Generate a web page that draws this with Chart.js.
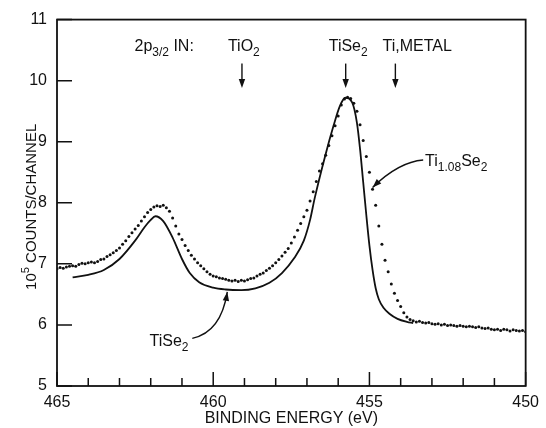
<!DOCTYPE html>
<html>
<head>
<meta charset="utf-8">
<script src="https://cdn.jsdelivr.net/npm/chart.js@4.4.1/dist/chart.umd.min.js"></script>
<style>
  html, body { margin: 0; padding: 0; background: #fff; }
</style>
</head>
<body>
<canvas id="xps" width="546" height="428"></canvas>
<script>
// TiSe2 solid curve (binding energy eV, 10^5 counts/channel)
const tise2Energy = [464.5, 464.0, 463.5, 463.0, 462.5, 462.2, 462.0, 461.85, 461.6, 461.3,
  461.0, 460.75, 460.45, 460.0, 459.6, 459.1, 458.65, 458.2, 457.8, 457.4,
  457.1, 456.9, 456.75, 456.4, 456.15, 455.95, 455.77, 455.55, 455.4, 455.3,
  455.2, 455.1, 455.0, 454.9, 454.8, 454.7, 454.55, 454.35, 454.1, 453.8, 453.6];
const tise2Counts = [6.78, 6.82, 6.90, 7.08, 7.38, 7.60, 7.72, 7.78, 7.70, 7.43,
  7.08, 6.85, 6.70, 6.61, 6.58, 6.57, 6.60, 6.69, 6.85, 7.10,
  7.38, 7.72, 8.08, 8.80, 9.26, 9.58, 9.72, 9.64, 9.31, 8.88,
  8.34, 7.80, 7.30, 6.90, 6.60, 6.42, 6.28, 6.18, 6.10, 6.05, 6.03];

// Ti1.08Se2 dotted spectrum
const tiSeEnergy = [
  465.0, 464.9, 464.8, 464.7, 464.6, 464.5, 464.4, 464.3, 464.2, 464.1,
  464.0, 463.9, 463.8, 463.7, 463.6, 463.5, 463.4, 463.3, 463.2, 463.1,
  463.0, 462.9, 462.8, 462.7, 462.6, 462.5, 462.4, 462.3, 462.2, 462.1,
  462.0, 461.9, 461.8, 461.7, 461.6, 461.5, 461.4, 461.3, 461.2, 461.1,
  461.0, 460.9, 460.8, 460.7, 460.6, 460.5, 460.4, 460.3, 460.2, 460.1,
  460.0, 459.9, 459.8, 459.7, 459.6, 459.5, 459.4, 459.3, 459.2, 459.1,
  459.0, 458.9, 458.8, 458.7, 458.6, 458.5, 458.4, 458.3, 458.2, 458.1,
  458.0, 457.9, 457.8, 457.7, 457.6, 457.5, 457.4, 457.3, 457.2, 457.1,
  457.0, 456.9, 456.8, 456.7, 456.6, 456.5, 456.4, 456.3, 456.2, 456.1,
  456.0, 455.9, 455.8, 455.7, 455.6, 455.5, 455.4, 455.3, 455.2, 455.1,
  455.0, 454.9, 454.8, 454.7, 454.6, 454.5, 454.4, 454.3, 454.2, 454.1,
  454.0, 453.9, 453.8, 453.7, 453.6, 453.5, 453.4, 453.3, 453.2, 453.1,
  453.0, 452.9, 452.8, 452.7, 452.6, 452.5, 452.4, 452.3, 452.2, 452.1,
  452.0, 451.9, 451.8, 451.7, 451.6, 451.5, 451.4, 451.3, 451.2, 451.1,
  451.0, 450.9, 450.8, 450.7, 450.6, 450.5, 450.4, 450.3, 450.2, 450.1,
  450.0];
const tiSeCounts = [
  6.92, 6.94, 6.93, 6.95, 6.96, 6.97, 6.96, 6.99, 7.01, 7.00,
  7.02, 7.03, 7.02, 7.04, 7.07, 7.08, 7.12, 7.15, 7.18, 7.22,
  7.26, 7.32, 7.38, 7.45, 7.51, 7.57, 7.63, 7.70, 7.77, 7.84,
  7.89, 7.93, 7.95, 7.94, 7.96, 7.92, 7.86, 7.75, 7.62, 7.49,
  7.40, 7.30, 7.22, 7.14, 7.08, 7.02, 6.97, 6.92, 6.87, 6.83,
  6.80, 6.79, 6.77, 6.76, 6.75, 6.73, 6.72, 6.73, 6.71, 6.73,
  6.72, 6.74, 6.76, 6.77, 6.80, 6.83, 6.85, 6.89, 6.93, 6.97,
  7.02, 7.07, 7.13, 7.19, 7.25, 7.34, 7.44, 7.55, 7.66, 7.77,
  7.88, 8.03, 8.18, 8.35, 8.52, 8.64, 8.78, 8.94, 9.10, 9.26,
  9.42, 9.60, 9.70, 9.73, 9.71, 9.63, 9.50, 9.28, 9.02, 8.76,
  8.50, 8.22, 7.96, 7.62, 7.32, 7.06, 6.87, 6.67, 6.52, 6.40,
  6.30, 6.20, 6.13, 6.09, 6.07, 6.05, 6.06, 6.04, 6.03, 6.04,
  6.02, 6.01, 6.02, 6.00, 6.01, 5.99, 6.00, 5.99, 5.98, 5.99,
  5.98, 5.97, 5.98, 5.97, 5.96, 5.97, 5.95, 5.94, 5.95, 5.93,
  5.92, 5.93, 5.91, 5.93, 5.92, 5.90, 5.92, 5.91, 5.90, 5.91,
  5.89];

const FONT = '"Liberation Sans", Arial, sans-serif';
const ink = '#111';

// text labels on the plot, positioned in data units (energy, counts)
const notes = [
  { e: 462.52, v: 10.49, align: 'left',   parts: [['2p'], ['3/2', 'sub'], [' IN:']] },
  { e: 459.02, v: 10.49, align: 'center', parts: [['TiO'], ['2', 'sub']] },
  { e: 455.68, v: 10.49, align: 'center', parts: [['TiSe'], ['2', 'sub']] },
  { e: 454.58, v: 10.49, align: 'left',   parts: [['Ti,METAL']] },
  { e: 453.22, v: 8.60,  align: 'left',   parts: [['Ti'], ['1.08', 'sub'], ['Se'], ['2', 'sub']] },
  { e: 462.04, v: 5.65,  align: 'left',   parts: [['TiSe'], ['2', 'sub']] }
];
const arrowEnergy = [459.08, 455.76, 454.17];
const arrowTop = 10.28, arrowBottom = 9.88;
// curved pointers: start, control, tip
const pointers = [
  [[453.28, 8.70], [454.06, 8.67], [454.90, 8.25]],
  [[460.67, 5.78], [459.75, 5.88], [459.55, 6.54]]
];

function drawRich(ctx, parts, x, y, size, align) {
  const fontFor = p => (p[1] ? Math.round(size * 0.72) : size) + 'px ' + FONT;
  let w = 0;
  parts.forEach(p => { ctx.font = fontFor(p); w += ctx.measureText(p[0]).width; });
  let cx = align === 'center' ? x - w / 2 : x;
  ctx.textAlign = 'left';
  ctx.textBaseline = 'alphabetic';
  parts.forEach(p => {
    ctx.font = fontFor(p);
    let dy = 0;
    if (p[1] === 'sub') dy = size * 0.32;
    if (p[1] === 'sup') dy = -size * 0.42;
    ctx.fillText(p[0], cx, y + dy);
    cx += ctx.measureText(p[0]).width;
  });
}

function arrowHead(ctx, x, y, ang) {
  const L = 9, W = 3.2;
  ctx.beginPath();
  ctx.moveTo(x, y);
  ctx.lineTo(x - L * Math.cos(ang) + W * Math.sin(ang), y - L * Math.sin(ang) - W * Math.cos(ang));
  ctx.lineTo(x - L * Math.cos(ang) - W * Math.sin(ang), y - L * Math.sin(ang) + W * Math.cos(ang));
  ctx.closePath();
  ctx.fill();
}

const decor = {
  id: 'decor',
  afterDraw(chart) {
    const ctx = chart.ctx;
    const a = chart.chartArea;
    const xs = chart.scales.x, ys = chart.scales.y;
    ctx.save();
    ctx.strokeStyle = ink;
    ctx.fillStyle = ink;
    ctx.lineWidth = 1.8;
    ctx.strokeRect(a.left, a.top, a.right - a.left, a.bottom - a.top);

    // inward tick marks
    ctx.lineWidth = 1.5;
    ctx.beginPath();
    xs.ticks.forEach(t => {
      const px = xs.getPixelForValue(t.value);
      const len = t.value % 5 === 0 ? 14 : 8;
      ctx.moveTo(px, a.bottom);
      ctx.lineTo(px, a.bottom - len);
    });
    ys.ticks.forEach(t => {
      const py = ys.getPixelForValue(t.value);
      ctx.moveTo(a.left, py);
      ctx.lineTo(a.left + 15, py);
    });
    ctx.stroke();

    // labels
    notes.forEach(n => {
      drawRich(ctx, n.parts, xs.getPixelForValue(n.e), ys.getPixelForValue(n.v), 16, n.align);
    });

    // straight arrows
    ctx.lineWidth = 1.4;
    arrowEnergy.forEach(e => {
      const px = xs.getPixelForValue(e);
      const y0 = ys.getPixelForValue(arrowTop), y1 = ys.getPixelForValue(arrowBottom);
      ctx.beginPath();
      ctx.moveTo(px, y0);
      ctx.lineTo(px, y1 - 6);
      ctx.stroke();
      arrowHead(ctx, px, y1, Math.PI / 2);
    });

    // curved pointers
    pointers.forEach(p => {
      const P = p.map(q => [xs.getPixelForValue(q[0]), ys.getPixelForValue(q[1])]);
      ctx.beginPath();
      ctx.moveTo(P[0][0], P[0][1]);
      ctx.quadraticCurveTo(P[1][0], P[1][1], P[2][0], P[2][1]);
      ctx.stroke();
      const ang = Math.atan2(P[2][1] - P[1][1], P[2][0] - P[1][0]);
      arrowHead(ctx, P[2][0], P[2][1], ang);
    });

    // axis titles
    ctx.font = '16px ' + FONT;
    ctx.textAlign = 'center';
    ctx.textBaseline = 'middle';
    ctx.fillText('BINDING ENERGY (eV)', (a.left + a.right) / 2, 419);
    ctx.save();
    ctx.translate(30, (a.top + a.bottom) / 2 + 4);
    ctx.rotate(-Math.PI / 2);
    drawRich(ctx, [['10'], ['5', 'sup'], [' COUNTS/CHANNEL']], 0, 5.5, 15, 'center');
    ctx.restore();
    ctx.restore();
  }
};

new Chart(document.getElementById('xps'), {
  type: 'line',
  data: {
    datasets: [
      {
        label: 'TiSe2',
        data: tise2Energy.map((e, i) => ({ x: e, y: tise2Counts[i] })),
        borderColor: ink,
        borderWidth: 1.8,
        pointRadius: 0,
        cubicInterpolationMode: 'monotone',
        fill: false
      },
      {
        label: 'Ti1.08Se2',
        data: tiSeEnergy.map((e, i) => ({ x: e, y: tiSeCounts[i] })),
        showLine: false,
        pointRadius: 1.5,
        pointBorderWidth: 0,
        pointBackgroundColor: ink,
        borderColor: ink
      }
    ]
  },
  options: {
    responsive: false,
    animation: false,
    layout: { padding: { top: 16, right: 18, left: 0, bottom: 0 } },
    plugins: { legend: { display: false }, tooltip: { enabled: false } },
    scales: {
      x: {
        type: 'linear',
        reverse: true,
        min: 450,
        max: 465,
        grid: { display: false, drawTicks: false },
        border: { display: false },
        ticks: {
          stepSize: 1,
          autoSkip: false,
          maxRotation: 0,
          padding: 7,
          color: ink,
          font: { family: FONT, size: 16 },
          callback: v => (v % 5 === 0 ? String(v) : '')
        },
        afterFit: s => { s.height = 42; }
      },
      y: {
        min: 5,
        max: 11,
        grid: { display: false, drawTicks: false },
        border: { display: false },
        ticks: {
          stepSize: 1,
          padding: 10,
          color: ink,
          font: { family: FONT, size: 16 }
        },
        afterFit: s => { s.width = 57; }
      }
    }
  },
  plugins: [decor]
});
</script>
</body>
</html>
